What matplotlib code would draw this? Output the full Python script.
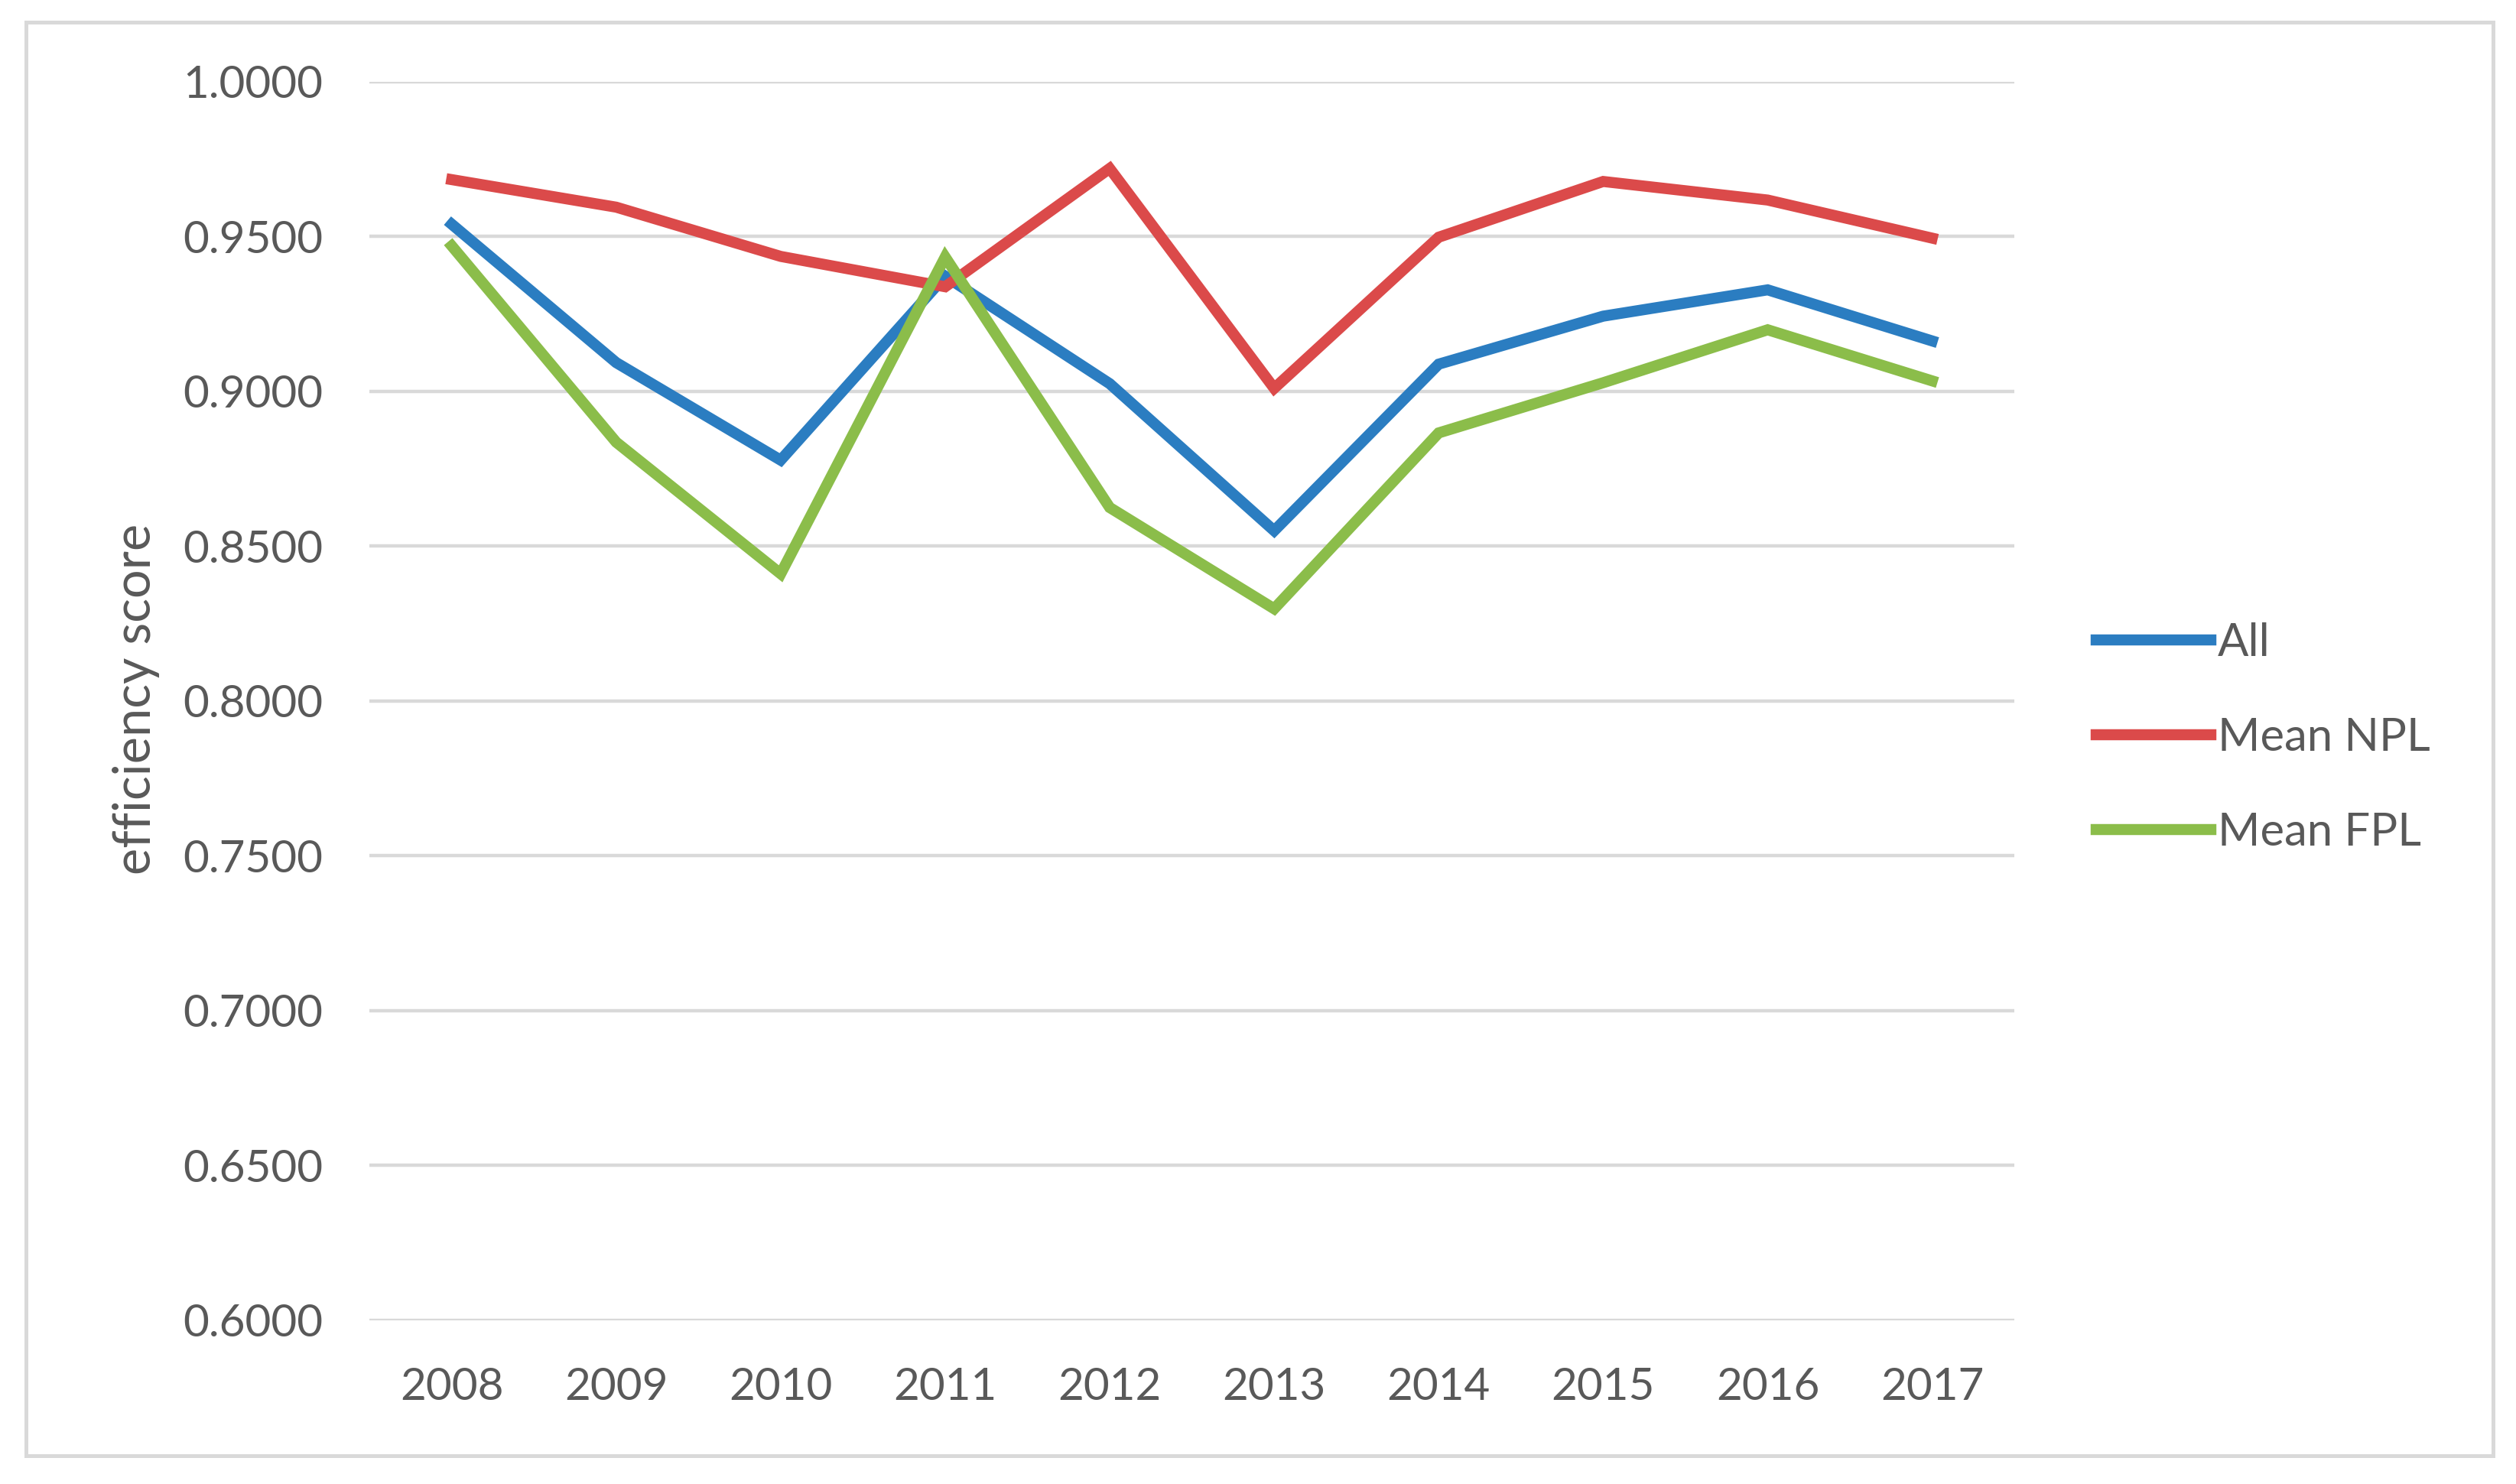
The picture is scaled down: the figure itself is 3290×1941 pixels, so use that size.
import matplotlib
matplotlib.use("Agg")
import matplotlib.pyplot as plt
from matplotlib.patches import Rectangle

# Data
years = ["2008", "2009", "2010", "2011", "2012", "2013", "2014", "2015", "2016", "2017"]
all_banks = [0.9540, 0.9093, 0.8778, 0.9372, 0.9025, 0.8550, 0.9088, 0.9243, 0.9328, 0.9163]
mean_npl = [0.9684, 0.9595, 0.9436, 0.9338, 0.9720, 0.9010, 0.9498, 0.9678, 0.9618, 0.9495]
mean_fpl = [0.9470, 0.8836, 0.8411, 0.9434, 0.8625, 0.8298, 0.8866, 0.9028, 0.9199, 0.9034]
y_ticks = [0.60, 0.65, 0.70, 0.75, 0.80, 0.85, 0.90, 0.95, 1.00]

plt.rcParams["font.family"] = ["Lato", "DejaVu Sans"]
text_col = "#595959"
grid_col = "#D9D9D9"

fig = plt.figure(figsize=(16.455, 9.705), dpi=200)
ax = fig.add_axes([0.1468, 0.1103, 0.6536, 0.8346])

x = range(len(years))
ax.plot(x, all_banks, color="#2B7DC1", lw=5.2, label="All", solid_joinstyle="miter")
ax.plot(x, mean_npl, color="#DB4A4A", lw=5.2, label="Mean NPL", solid_joinstyle="miter")
ax.plot(x, mean_fpl, color="#8BBD4A", lw=5.2, label="Mean FPL", solid_joinstyle="miter")

ax.set_xlim(-0.5, len(years) - 0.5)
ax.set_ylim(0.6, 1.0)
ax.set_xticks(list(x))
ax.set_xticklabels(years)
ax.set_yticks(y_ticks)
ax.set_yticklabels([f"{v:.4f}" for v in y_ticks])
ax.tick_params(length=0, labelsize=21, labelcolor=text_col, pad=22)
ax.yaxis.grid(True, color=grid_col, lw=1.6)
ax.set_axisbelow(True)
for s in ax.spines.values():
    s.set_visible(False)

fig.text(0.054, 0.529, "efficiency score", rotation=90, ha="center", va="center",
         fontsize=24, color=text_col)

leg = fig.legend(loc="center left", bbox_to_anchor=(0.833, 0.503), frameon=False,
                 fontsize=21.5, handlelength=2.5, handletextpad=0.15, labelspacing=1.17,
                 borderpad=0, borderaxespad=0)
for t in leg.get_texts():
    t.set_color(text_col)

# light grey frame around the chart
fig.patches.append(Rectangle((34 / 3291, 1 - 1904 / 1941), (3260 - 34) / 3291, (1904 - 29) / 1941,
                             transform=fig.transFigure, fill=False, ec=grid_col, lw=1.8))

fig.savefig("out.png", dpi=200, facecolor="white")
